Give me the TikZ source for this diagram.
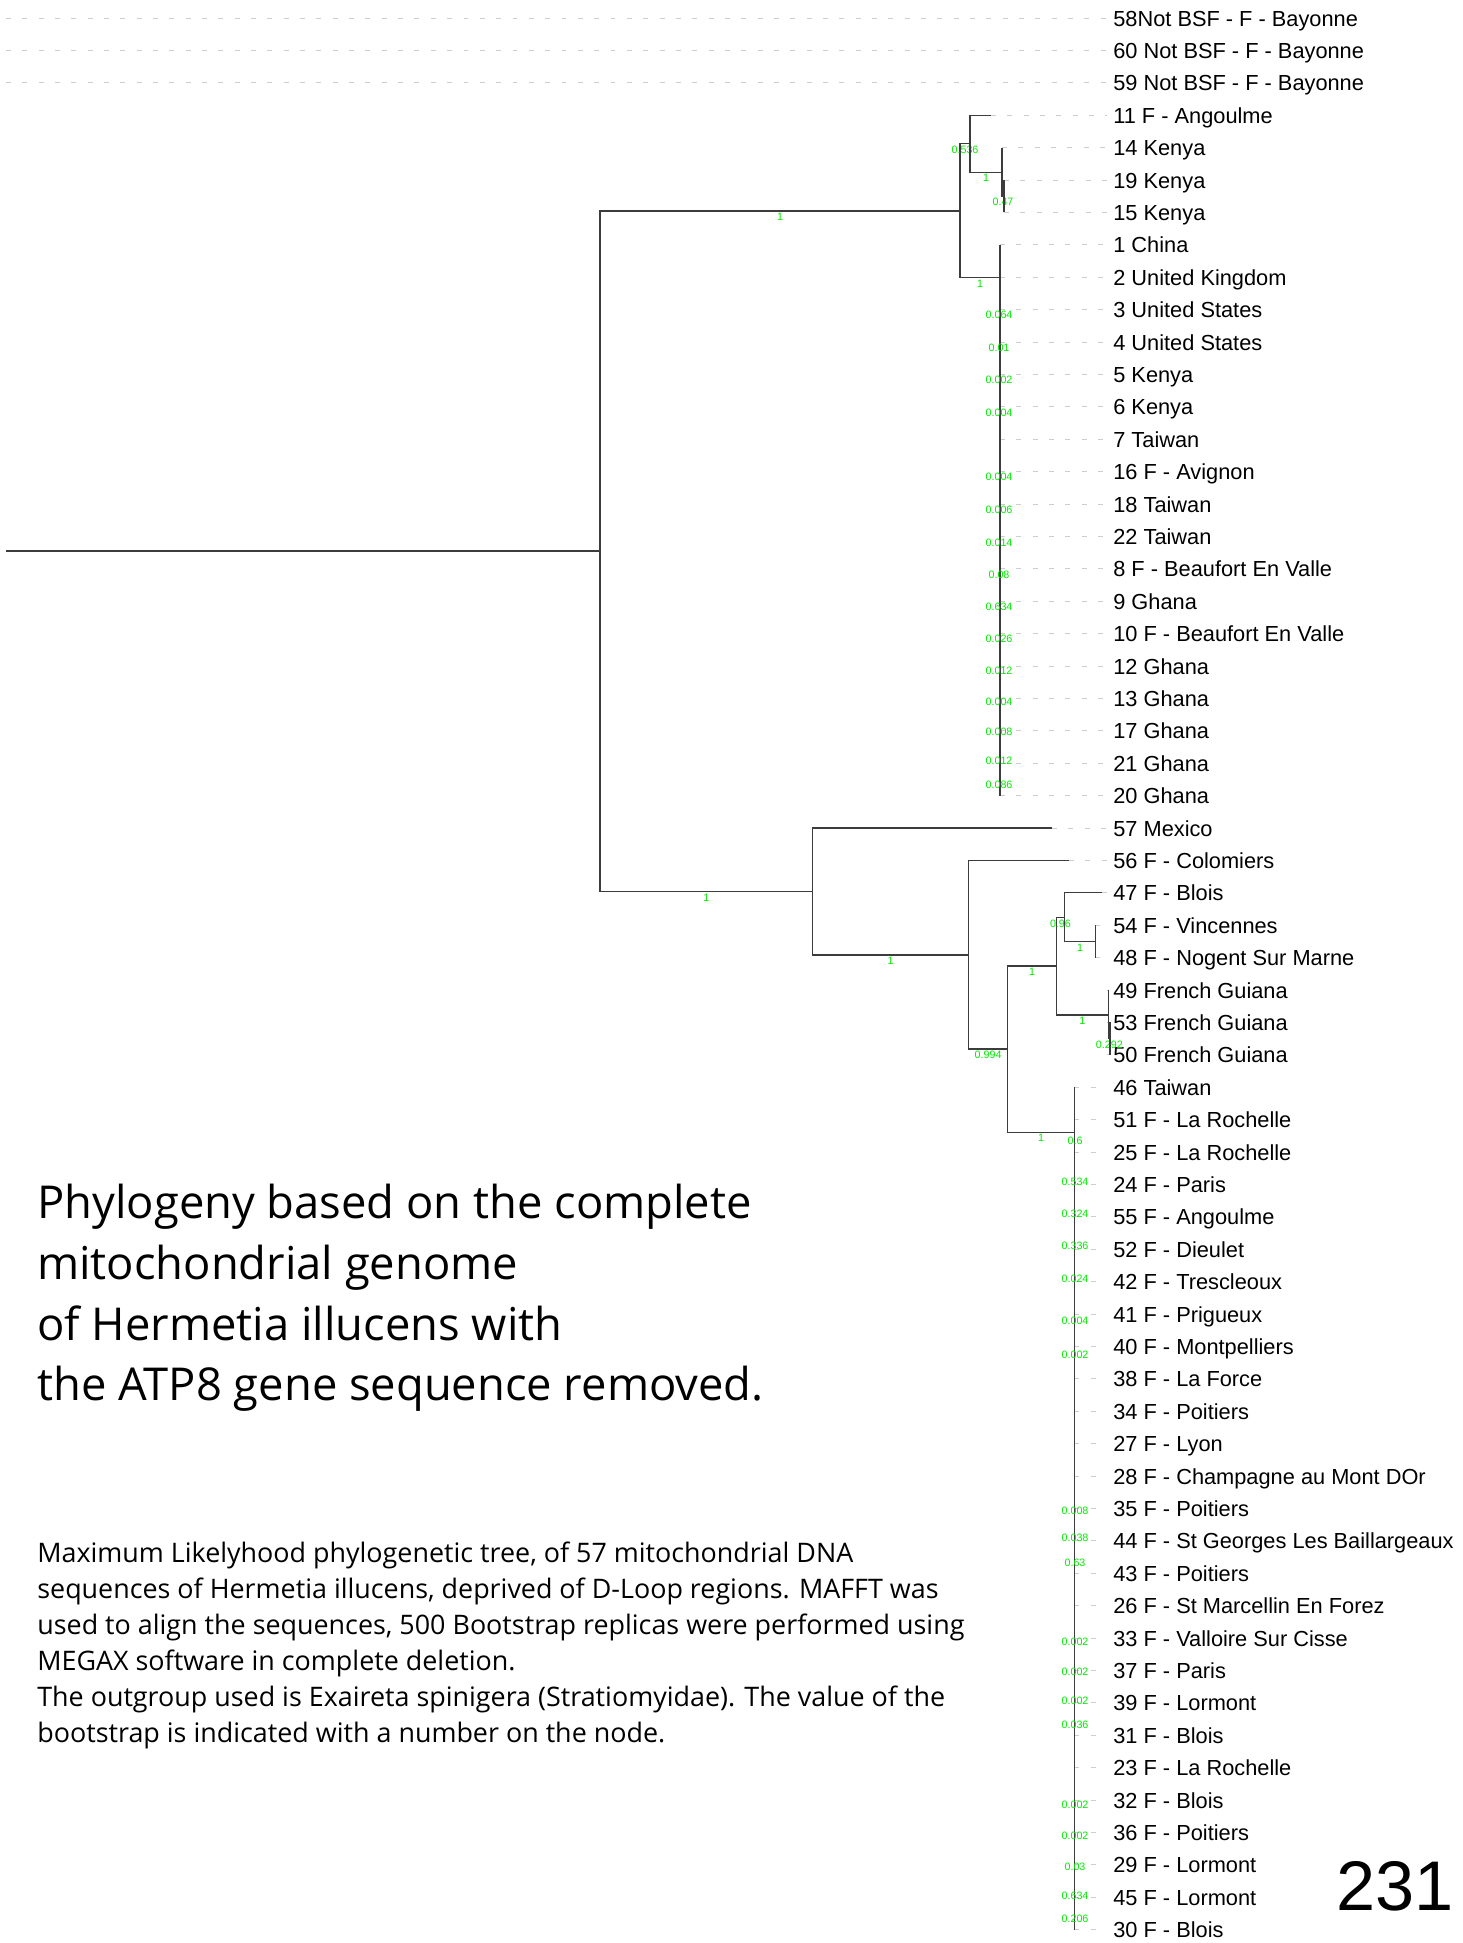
\documentclass[tikz,border=0pt]{standalone}
\usepackage{fontspec}
\setmainfont{Liberation Sans}
\newfontfamily\capfont{Open Sans}
\usetikzlibrary{positioning}
\definecolor{bsgreen}{RGB}{0,235,0}
\definecolor{guidegray}{RGB}{205,205,205}
\definecolor{branchgray}{RGB}{60,60,60}

\begin{document}
\begin{tikzpicture}[x=0.02cm, y=-0.02cm,
  br/.style={draw=branchgray, line width=0.7pt},
  guide/.style={draw=guidegray, line width=0.5pt, dash pattern=on 2.8pt off 6.5pt},
  leaf/.style={anchor=west, inner xsep=3.4pt, inner ysep=0pt, text height=0.716em,
    text depth=0pt, yshift=-1pt, font=\fontsize{12.4}{14}\selectfont},
  bs/.style={text=bsgreen, inner sep=0pt, font=\fontsize{6.1}{7}\selectfont},
  bsb/.style={bs, pos=0.75, yshift=-3.4pt}]
  \useasboundingbox (0,0) rectangle (1463,1943);

  % leaves
  \foreach \i/\tx/\txt in {
    1/6/58Not BSF - F - Bayonne,
    2/6/60 Not BSF - F - Bayonne,
    3/6/59 Not BSF - F - Bayonne,
    4/991/11 F - Angoulme,
    5/1002/14 Kenya,
    6/1004/19 Kenya,
    7/1004/15 Kenya,
    8/1000/1 China,
    9/1000/2 United Kingdom,
    10/1000/3 United States,
    11/1000/4 United States,
    12/1000/5 Kenya,
    13/1000/6 Kenya,
    14/1000/7 Taiwan,
    15/1000/16 F - Avignon,
    16/1000/18 Taiwan,
    17/1000/22 Taiwan,
    18/1000/8 F - Beaufort En Valle,
    19/1000/9 Ghana,
    20/1000/10 F - Beaufort En Valle,
    21/1000/12 Ghana,
    22/1000/13 Ghana,
    23/1000/17 Ghana,
    24/1000/21 Ghana,
    25/1000/20 Ghana,
    26/1052/57 Mexico,
    27/1069/56 F - Colomiers,
    28/1102/47 F - Blois,
    29/1095.5/54 F - Vincennes,
    30/1095.5/48 F - Nogent Sur Marne,
    31/1108.6/49 French Guiana,
    32/1110/53 French Guiana,
    33/1110/50 French Guiana,
    34/1074.5/46 Taiwan,
    35/1074.5/51 F - La Rochelle,
    36/1074.5/25 F - La Rochelle,
    37/1074.5/24 F - Paris,
    38/1074.5/55 F - Angoulme,
    39/1074.5/52 F - Dieulet,
    40/1074.5/42 F - Trescleoux,
    41/1074.5/41 F - Prigueux,
    42/1074.5/40 F - Montpelliers,
    43/1074.5/38 F - La Force,
    44/1074.5/34 F - Poitiers,
    45/1074.5/27 F - Lyon,
    46/1074.5/28 F - Champagne au Mont DOr,
    47/1074.5/35 F - Poitiers,
    48/1074.5/44 F - St Georges Les Baillargeaux,
    49/1074.5/43 F - Poitiers,
    50/1074.5/26 F - St Marcellin En Forez,
    51/1074.5/33 F - Valloire Sur Cisse,
    52/1074.5/37 F - Paris,
    53/1074.5/39 F - Lormont,
    54/1074.5/31 F - Blois,
    55/1074.5/23 F - La Rochelle,
    56/1074.5/32 F - Blois,
    57/1074.5/36 F - Poitiers,
    58/1074.5/29 F - Lormont,
    59/1074.5/45 F - Lormont,
    60/1074.5/30 F - Blois}{
    \pgfmathsetmacro\yy{18+32.4*(\i-1)}
    \coordinate (tip\i) at (\tx,\yy);
    \node[leaf] (l\i) at (1107,\yy) {\txt};
    \draw[guide] (tip\i) -- (tip\i -| l\i.west);
  }

  % internal nodes
  \coordinate (o) at (6,551);
  \coordinate (r) at (600,551);
  \coordinate (U) at (960,211);
  \coordinate (U1) at (970,143.7);
  \coordinate (U11) at (1002,172.3);
  \coordinate (U12) at (1004,196.2);
  \coordinate (U2) at (1000,277.7);
  \coordinate (L) at (812.5,891.7);
  \coordinate (L2) at (968.5,955);
  \coordinate (L3) at (1007.7,1049);
  \coordinate (L4) at (1056.3,966);
  \coordinate (L5) at (1064.6,917.7);
  \coordinate (F) at (1095.5,941.4);
  \coordinate (G) at (1108.6,1015);
  \coordinate (G2) at (1110,1038.6);
  \coordinate (H) at (1074.5,1132.3);

  % root and upper clade
  \draw[br] (o) -- (r);
  \draw[br] (r) |- (U) node[bsb] {1};
  \draw[br] (r) |- (L) node[bsb] {1};
  \draw[br] (U) |- (U1) node[bsb] {0.536};
  \draw[br] (U) |- (U2) node[bsb] {1};
  \draw[br] (U1) |- (tip4);
  \draw[br] (U1) |- (U11) node[bsb] {1};
  \draw[br] (U11) |- (tip5);
  \draw[br] (U11) |- (U12) node[bsb] {0.47};
  \draw[br] (tip6) -- (tip7);
  \draw[br] (tip8) -- (tip25);

  % lower clade
  \draw[br] (L) |- (tip26);
  \draw[br] (L) |- (L2) node[bsb] {1};
  \draw[br] (L2) |- (tip27);
  \draw[br] (L2) |- (L3) node[bsb] {0.994};
  \draw[br] (L3) |- (L4) node[bsb] {1};
  \draw[br] (L3) |- (H) node[bsb] {1};
  \draw[br] (L4) |- (L5) node[bsb] {0.96};
  \draw[br] (L4) |- (G) node[bsb] {1};
  \draw[br] (L5) |- (tip28);
  \draw[br] (L5) |- (F) node[bsb] {1};
  \draw[br] (tip29) -- (tip30);
  \draw[br] (G) |- (tip31);
  \draw[br] (G) |- (G2) node[bsb] {0.292};
  \draw[br] (tip32) -- (tip33);
  \draw[br] (tip34) -- (tip60);

  % bootstrap values on the combs
  \foreach \yy/\v [count=\k] in {315/0.064, 348/0.01, 380/0.002, 413/0.004,
      477/0.004, 510/0.006, 543/0.014, 575/0.08, 607/0.634, 639/0.026,
      671/0.012, 702/0.004, 732/0.008, 761/0.012, 785/0.086}
    \node[bs] (bu\k) at (999,\yy) {\v};
  \foreach \yy/\v [count=\k] in {1141/0.6, 1182/0.534, 1214/0.324, 1246/0.336,
      1279/0.024, 1321/0.004, 1355/0.002, 1511/0.008, 1538/0.038, 1563/0.63,
      1642/0.002, 1672/0.002, 1701/0.002, 1725/0.036, 1805/0.002, 1836/0.002,
      1867/0.03, 1896/0.634, 1919/0.206}
    \node[bs] (bl\k) at (1075,\yy) {\v};

  % texts
  \node[anchor=north west, align=left, inner sep=0pt,
    font=\capfont\fontsize{25.8}{34.5}\selectfont] (title) at (37,1184)
    {Phylogeny based on the complete\\mitochondrial genome\\of Hermetia illucens with\\the ATP8 gene sequence removed.};
  \node[anchor=north west, align=left, inner sep=0pt,
    font=\capfont\fontsize{15.3}{20.4}\selectfont] (caption) at (37,1542)
    {Maximum Likelyhood phylogenetic tree, of 57 mitochondrial DNA\\
     sequences of Hermetia illucens, deprived of D-Loop regions. MAFFT was\\
     used to align the sequences, 500 Bootstrap replicas were performed using\\
     MEGAX software in complete deletion.\\
     The outgroup used is Exaireta spinigera (Stratiomyidae). The value of the\\
     bootstrap is indicated with a number on the node.};
  \node[anchor=base west, inner sep=0pt, font=\fontsize{40}{48}\selectfont] (pagenum)
    at (1336,1910) {231};
\end{tikzpicture}
\end{document}
